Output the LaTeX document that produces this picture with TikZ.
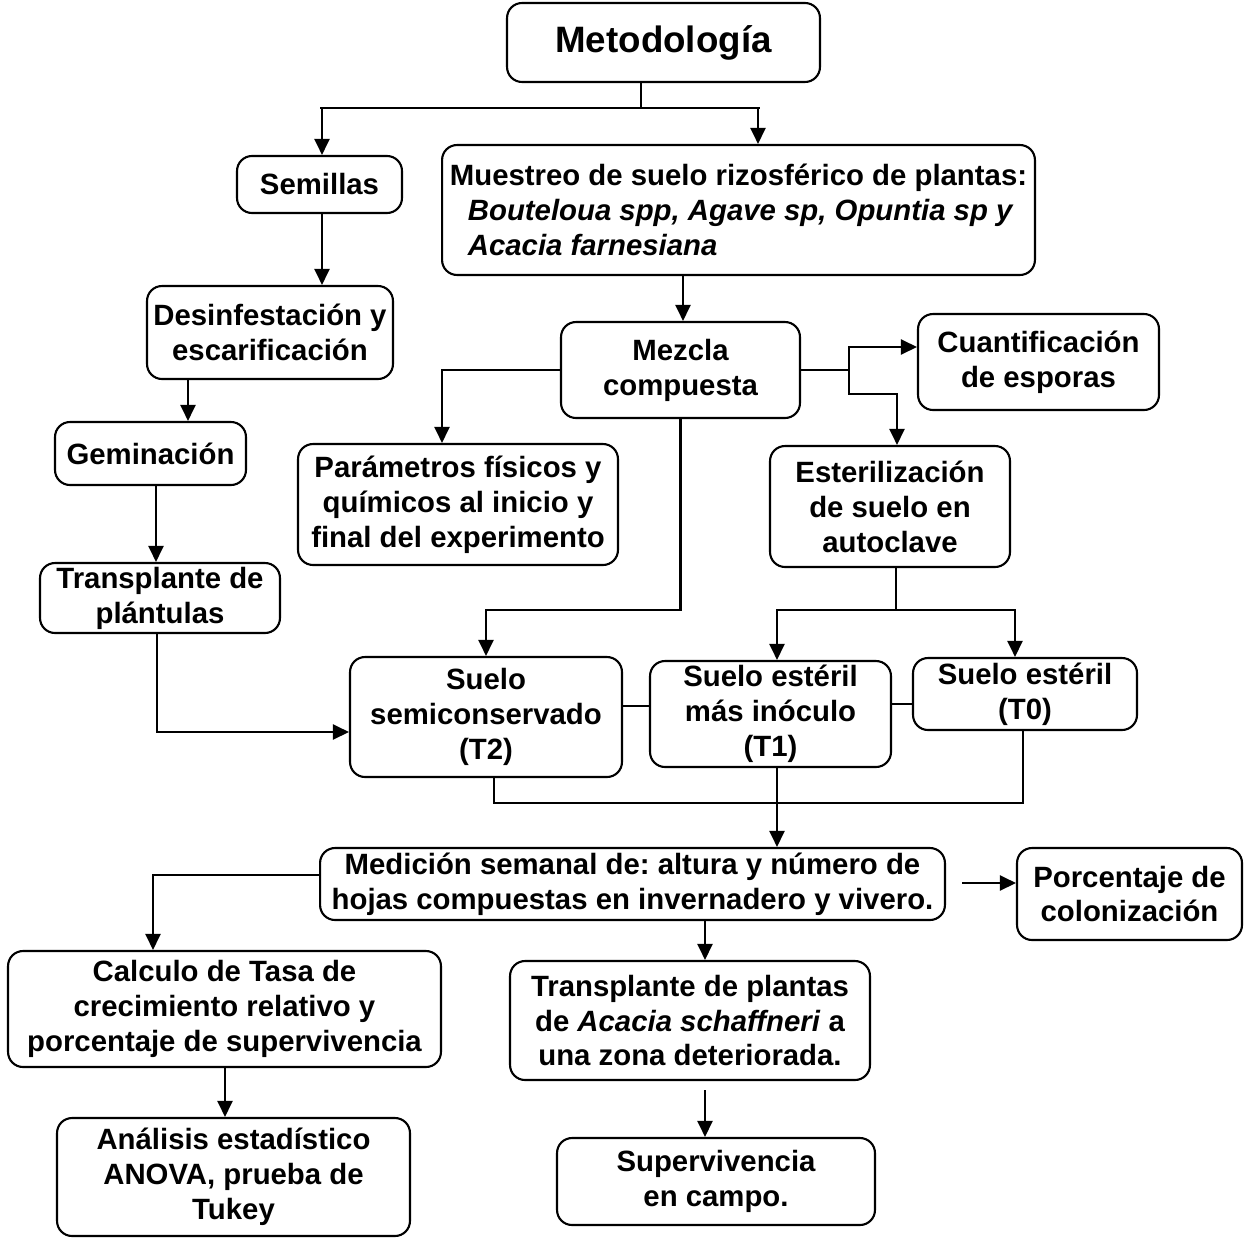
\documentclass[tikz,border=0pt]{standalone}
\usepackage{fontspec}
\setmainfont{Liberation Sans}
\usetikzlibrary{arrows.meta}
\frenchspacing

\begin{document}
\begin{tikzpicture}[x=0.02cm, y=-0.02cm, line width=1.2pt,
    caja/.style={draw, rounded corners=0.3cm, align=center, inner sep=0pt,
      font=\bfseries\fontsize{16.7}{19.9}\selectfont},
    flecha/.style={-{Triangle[length=0.32cm,width=0.3cm]}}]
  \useasboundingbox (0,0) rectangle (1253,1237);

  \node [caja, minimum width=6.26cm, minimum height=1.58cm, font=\bfseries\fontsize{20.9}{24}\selectfont] (met) at (663.5,42.5) {Metodología};
  \node [caja, minimum width=3.3cm, minimum height=1.14cm] (sem) at (319.5,184.5) {Semillas};
  \node [caja, minimum width=11.86cm, minimum height=2.6cm, align=left] (mue) at (738.5,210) {Muestreo de suelo rizosférico de plantas:\\\hspace*{0.36cm}\textit{Bouteloua spp, Agave sp, Opuntia sp y}\\\hspace*{0.36cm}\textit{Acacia farnesiana}};
  \node [caja, minimum width=4.92cm, minimum height=1.86cm] (des) at (270,332.5) {Desinfestación y\\escarificación};
  \node [caja, minimum width=3.82cm, minimum height=1.26cm] (ger) at (150.5,453.5) {Geminación};
  \node [caja, minimum width=4.8cm, minimum height=1.4cm] (tpl) at (160,598) {Transplante de\\plántulas};
  \node [caja, minimum width=4.78cm, minimum height=1.92cm] (mez) at (680.5,370) {Mezcla\\compuesta};
  \node [caja, minimum width=4.82cm, minimum height=1.92cm] (cua) at (1038.5,362) {Cuantificación\\de esporas};
  \node [caja, minimum width=6.4cm, minimum height=2.42cm] (par) at (458,504.5) {Parámetros físicos y\\químicos al inicio y\\final del experimento};
  \node [caja, minimum width=4.8cm, minimum height=2.42cm] (est) at (890,506.5) {Esterilización\\de suelo en\\autoclave};
  \node [caja, minimum width=5.44cm, minimum height=2.4cm] (t2) at (486,717) {Suelo\\semiconservado\\(T2)};
  \node [caja, minimum width=4.82cm, minimum height=2.12cm] (t1) at (770.5,714) {Suelo estéril\\más inóculo\\(T1)};
  \node [caja, minimum width=4.48cm, minimum height=1.44cm] (t0) at (1025,694) {Suelo estéril\\(T0)};
  \node [caja, minimum width=12.5cm, minimum height=1.44cm] (med) at (632.5,884) {Medición semanal de: altura y número de\\hojas compuestas en invernadero y vivero.};
  \node [caja, minimum width=4.5cm, minimum height=1.84cm] (por) at (1129.5,894) {Porcentaje de\\colonización};
  \node [caja, minimum width=8.66cm, minimum height=2.32cm] (cal) at (224.5,1009) {Calculo de Tasa de\\crecimiento relativo y\\porcentaje de supervivencia};
  \node [caja, minimum width=7.06cm, minimum height=2.36cm] (ana) at (233.5,1177) {Análisis estadístico\\ANOVA, prueba de\\Tukey};
  \node [caja, minimum width=7.2cm, minimum height=2.38cm] (tpa) at (690,1020.5) {Transplante de plantas\\de \textit{Acacia schaffneri} a\\una zona deteriorada.};
  \node [caja, minimum width=6.36cm, minimum height=1.74cm] (sup) at (716,1181.5) {Supervivencia\\en campo.};

  \coordinate (split) at (641,108);
  \coordinate (bl) at (320,108);
  \coordinate (br) at (760,108);
  \coordinate (jr) at (849,370);
  \coordinate (ej) at (896,610);
  \coordinate (pa) at (962,883);
  \coordinate (sa) at (705,1090);

  \draw (641,0 |- met.south) -- (split);
  \draw (bl) -- (br);
  \draw [flecha] (322,0 |- bl) -- (322,0 |- sem.north);
  \draw [flecha] (758,0 |- br) -- (758,0 |- mue.north);
  \draw [flecha] (322,0 |- sem.south) -- (322,0 |- des.north);
  \draw [flecha] (188,0 |- des.south) -- (188,0 |- ger.north);
  \draw [flecha] (156,0 |- ger.south) -- (156,0 |- tpl.north);
  \draw [flecha] (157,0 |- tpl.south) |- (t2.west |- 0,732);
  \draw [flecha] (683,0 |- mue.south) -- (683,0 |- mez.north);
  \draw [flecha] (mez.west) -| (442,0 |- par.north);
  \draw (mez.east) -- (jr);
  \draw [flecha] (jr) |- (cua.west |- 0,347);
  \draw [flecha] (jr) |- (897,394) -- (897,0 |- est.north);
  \draw [flecha] (mez.south) |- (t2.north |- 0,610) -- (t2.north);
  \draw (896,0 |- est.south) -- (ej);
  \draw [flecha] (ej) -| (777,0 |- t1.north);
  \draw [flecha] (ej) -| (1015,0 |- t0.north);
  \draw (t2.east |- 0,706) -- (t1.west |- 0,706);
  \draw (t1.east |- 0,704) -- (t0.west |- 0,704);
  \draw (494,0 |- t2.south) -- (494,803) -- (1023,803) -- (1023,0 |- t0.south);
  \draw [flecha] (777,0 |- t1.south) -- (777,0 |- med.north);
  \draw [flecha] (pa) -- (por.west |- pa);
  \draw [flecha] (med.west |- 0,875) -| (153,0 |- cal.north);
  \draw [flecha] (705,0 |- med.south) -- (705,0 |- tpa.north);
  \draw [flecha] (225,0 |- cal.south) -- (225,0 |- ana.north);
  \draw [flecha] (sa) -- (sa |- sup.north);
\end{tikzpicture}
\end{document}
